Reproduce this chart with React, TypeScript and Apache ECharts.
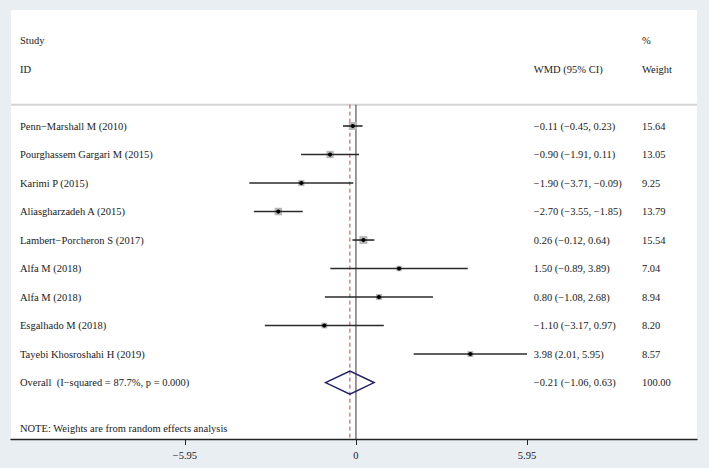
import React, { useEffect, useRef } from "react";
import * as echarts from "echarts";

const studies = [
  "Penn\u2212Marshall M (2010)",
  "Pourghassem Gargari M (2015)",
  "Karimi P (2015)",
  "Aliasgharzadeh A (2015)",
  "Lambert\u2212Porcheron S (2017)",
  "Alfa M (2018)",
  "Alfa M (2018)",
  "Esgalhado M (2018)",
  "Tayebi Khosroshahi H (2019)",
];
const estimates = [-0.11, -0.9, -1.9, -2.7, 0.26, 1.5, 0.8, -1.1, 3.98];
const lowers = [-0.45, -1.91, -3.71, -3.55, -0.12, -0.89, -1.08, -3.17, 2.01];
const uppers = [0.23, 0.11, -0.09, -1.85, 0.64, 3.89, 2.68, 0.97, 5.95];
const weights = [15.64, 13.05, 9.25, 13.79, 15.54, 7.04, 8.94, 8.2, 8.57];

const overallLabel = "Overall  (I\u2212squared = 87.7%, p = 0.000)";
const overallEst = -0.21;
const overallLo = -1.06;
const overallHi = 0.63;
const overallWeight = 100.0;

const tickValues = [-5.95, 0, 5.95];
const noteText = "NOTE: Weights are from random effects analysis";

const fmt = (v: number) => (v < 0 ? "\u2212" : "") + Math.abs(v).toFixed(2);
const ciText = (e: number, l: number, h: number) => `${fmt(e)} (${fmt(l)}, ${fmt(h)})`;

const FONT = '10.5px "Liberation Serif", "Times New Roman", serif';
const TEXT_COLOR = "#1a1a1a";

export default function App() {
  const ref = useRef<HTMLDivElement>(null);
  useEffect(() => {
    if (!ref.current) return;
    const chart = echarts.init(ref.current, null, { renderer: "svg" });

    const nameX = -11.69;
    const ciX = 6.19;
    const wX = 9.95;
    const overallRow = studies.length;
    const noteRow = overallRow + 1.6;
    const sepRow = -0.75;
    const yMin = -4.07;
    const yMax = 10.98;
    const xMin = -12.0;
    const xMax = 11.865;

    const texts: { x: number; row: number; text: string }[] = [];
    texts.push({ x: nameX, row: -3, text: "Study" });
    texts.push({ x: nameX, row: -2, text: "ID" });
    texts.push({ x: ciX, row: -2, text: "WMD (95% CI)" });
    texts.push({ x: wX, row: -3, text: "%" });
    texts.push({ x: wX, row: -2, text: "Weight" });
    studies.forEach((s, i) => {
      texts.push({ x: nameX, row: i, text: s });
      texts.push({ x: ciX, row: i, text: ciText(estimates[i], lowers[i], uppers[i]) });
      texts.push({ x: wX, row: i, text: weights[i].toFixed(2) });
    });
    texts.push({ x: nameX, row: overallRow, text: overallLabel });
    texts.push({ x: ciX, row: overallRow, text: ciText(overallEst, overallLo, overallHi) });
    texts.push({ x: wX, row: overallRow, text: overallWeight.toFixed(2) });
    texts.push({ x: nameX, row: noteRow, text: noteText });

    const studyData = studies.map((_, i) => [estimates[i], i, lowers[i], uppers[i], weights[i]]);

    const option: any = {
      animation: false,
      backgroundColor: "#e9eef2",
      grid: {
        left: 11,
        right: 12,
        top: 10,
        bottom: 29,
        show: true,
        backgroundColor: "#ffffff",
        borderWidth: 0,
      },
      xAxis: {
        type: "value",
        min: xMin,
        max: xMax,
        splitLine: { show: false },
        axisLine: { show: true, onZero: false, lineStyle: { color: "#222", width: 1.4 } },
        axisTick: {
          show: true,
          customValues: tickValues,
          length: 6,
          lineStyle: { color: "#222", width: 1 },
        },
        axisLabel: {
          show: true,
          customValues: tickValues,
          formatter: (v: number) => (v === 0 ? "0" : fmt(v)),
          fontFamily: '"Liberation Serif", "Times New Roman", serif',
          fontSize: 10.5,
          color: TEXT_COLOR,
          margin: 11,
        },
      },
      yAxis: {
        type: "value",
        inverse: true,
        min: yMin,
        max: yMax,
        show: false,
      },
      series: [
        {
          type: "custom",
          name: "refs",
          silent: true,
          data: [[0, sepRow]],
          encode: { x: 0, y: 1 },
          clip: false,
          renderItem: (params: any, api: any) => {
            const top = api.coord([0, sepRow]);
            const bottom = api.coord([0, yMax]);
            const left = api.coord([xMin, sepRow]);
            const right = api.coord([xMax, sepRow]);
            const ov = api.coord([overallEst, yMax]);
            return {
              type: "group",
              children: [
                {
                  type: "line",
                  shape: { x1: left[0], y1: top[1], x2: right[0], y2: top[1] },
                  style: { stroke: "#d4d4d4", lineWidth: 2 },
                },
                {
                  type: "line",
                  shape: { x1: top[0], y1: top[1], x2: bottom[0], y2: bottom[1] },
                  style: { stroke: "#555", lineWidth: 1.2 },
                },
                {
                  type: "line",
                  shape: { x1: ov[0], y1: top[1], x2: ov[0], y2: bottom[1] },
                  style: { stroke: "#a0504f", lineWidth: 1, lineDash: [4, 3] },
                },
              ],
            };
          },
        },
        {
          type: "custom",
          name: "studies",
          silent: true,
          data: studyData,
          encode: { x: 0, y: 1 },
          renderItem: (params: any, api: any) => {
            const e = api.value(0);
            const r = api.value(1);
            const l = api.value(2);
            const h = api.value(3);
            const w = api.value(4);
            const c = api.coord([e, r]);
            const pl = api.coord([l, r]);
            const ph = api.coord([h, r]);
            const side = 2.02 * Math.sqrt(w);
            return {
              type: "group",
              children: [
                {
                  type: "rect",
                  shape: { x: c[0] - side / 2, y: c[1] - side / 2, width: side, height: side },
                  style: { fill: "#b8b8b8" },
                },
                {
                  type: "line",
                  shape: { x1: pl[0], y1: c[1], x2: ph[0], y2: c[1] },
                  style: { stroke: "#2a2a2a", lineWidth: 1.6 },
                },
                {
                  type: "circle",
                  shape: { cx: c[0], cy: c[1], r: 2.1 },
                  style: { fill: "#000" },
                },
              ],
            };
          },
        },
        {
          type: "custom",
          name: "overall",
          silent: true,
          data: [[overallEst, overallRow, overallLo, overallHi]],
          encode: { x: 0, y: 1 },
          renderItem: (params: any, api: any) => {
            const r = api.value(1);
            const c = api.coord([api.value(0), r]);
            const pl = api.coord([api.value(2), r]);
            const ph = api.coord([api.value(3), r]);
            const hh = 11.5;
            return {
              type: "polygon",
              shape: {
                points: [
                  [pl[0], c[1]],
                  [c[0], c[1] - hh],
                  [ph[0], c[1]],
                  [c[0], c[1] + hh],
                ],
              },
              style: { fill: "none", stroke: "#1f1f6b", lineWidth: 1.5 },
            };
          },
        },
        {
          type: "custom",
          name: "texts",
          silent: true,
          data: texts.map((t) => [t.x, t.row]),
          encode: { x: 0, y: 1 },
          renderItem: (params: any, api: any) => {
            const p = api.coord([api.value(0), api.value(1)]);
            const t = texts[params.dataIndex];
            return {
              type: "text",
              x: p[0],
              y: p[1],
              style: {
                text: t.text,
                font: FONT,
                fill: TEXT_COLOR,
                textAlign: "left",
                textVerticalAlign: "middle",
              },
            };
          },
        },
      ],
    };
    chart.setOption(option);
    return () => chart.dispose();
  }, []);
  return (
    <div
      ref={ref}
      style={{ position: "fixed", left: 0, top: 0, width: 709, height: 468 }}
    />
  );
}
